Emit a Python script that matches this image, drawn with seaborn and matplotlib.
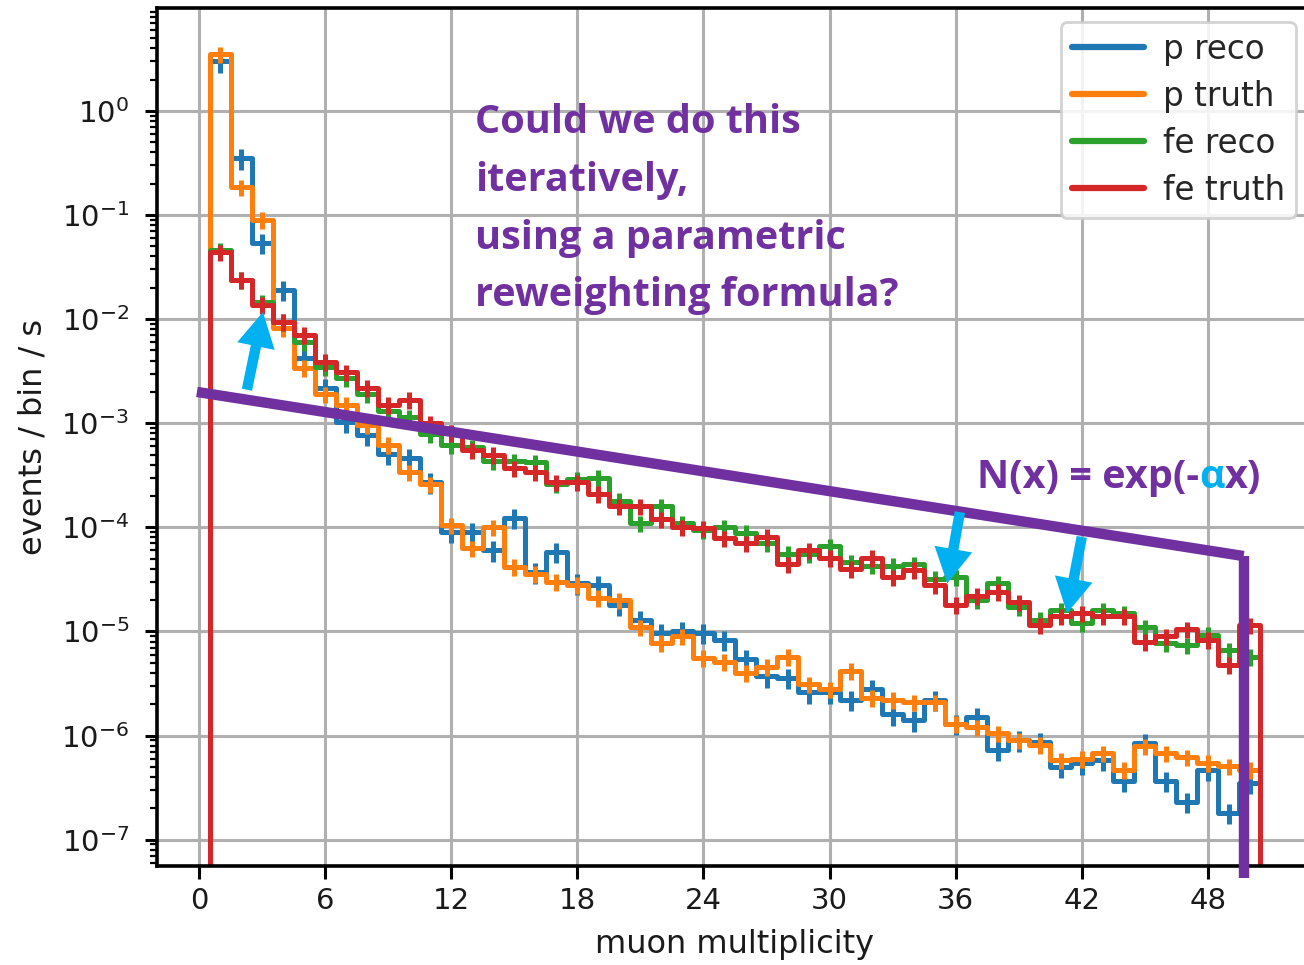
#!/usr/bin/env python3
"""
muon multiplicity: reco vs truth for p and fe, with reweighting idea sketched on top
"""

import numpy as np
import pandas as pd
import matplotlib
matplotlib.use('Agg')
import matplotlib.pyplot as plt
import seaborn as sns
from matplotlib.lines import Line2D

# data (events / bin / s), one bin per multiplicity 1..50
MULTIPLICITY = np.arange(1, 51)
BIN_EDGES = list(np.arange(-0.5, 52.0, 1.0))

P_RECO = [3.0, 0.35, 0.054, 0.019, 0.0042, 0.0022, 0.00103, 0.00077, 0.00051, 0.00046,
          0.00027, 9.1e-5, 9.0e-5, 6.0e-5, 1.23e-4, 3.7e-5, 5.8e-5, 2.9e-5, 2.8e-5, 1.8e-5,
          1.3e-5, 9.7e-6, 1.0e-5, 9.7e-6, 8.3e-6, 5.4e-6, 3.7e-6, 3.6e-6, 2.6e-6, 2.6e-6,
          2.2e-6, 2.8e-6, 1.6e-6, 1.4e-6, 2.2e-6, 1.3e-6, 1.5e-6, 7.3e-7, 9.0e-7, 8.7e-7,
          5.0e-7, 5.4e-7, 5.8e-7, 3.7e-7, 8.5e-7, 3.7e-7, 2.3e-7, 4.7e-7, 1.8e-7, 3.5e-7]
P_TRUTH = [3.5, 0.186, 0.09, 0.0083, 0.0034, 0.0019, 0.0015, 0.00096, 0.00062, 0.00034,
           0.00026, 1.05e-4, 6.3e-5, 1.0e-4, 4.2e-5, 3.6e-5, 3.0e-5, 2.8e-5, 2.1e-5, 2.0e-5,
           1.1e-5, 7.8e-6, 9.0e-6, 5.6e-6, 5.1e-6, 4.0e-6, 4.6e-6, 5.7e-6, 3.1e-6, 2.8e-6,
           4.2e-6, 2.3e-6, 2.2e-6, 2.1e-6, 2.1e-6, 1.3e-6, 1.2e-6, 1.05e-6, 9.0e-7, 8.2e-7,
           5.8e-7, 6.0e-7, 6.8e-7, 4.7e-7, 7.9e-7, 6.8e-7, 6.2e-7, 5.5e-7, 5.1e-7, 4.7e-7]
FE_RECO = [0.046, 0.024, 0.0145, 0.0094, 0.006, 0.0035, 0.0027, 0.0019, 0.0013, 0.00114,
           0.00078, 0.00062, 0.00059, 0.00043, 0.00043, 0.00042, 0.00026, 0.00029, 0.0003, 0.00018,
           0.00011, 0.00016, 0.00011, 9.5e-5, 1.0e-4, 8.9e-5, 7.0e-5, 5.6e-5, 5.5e-5, 6.6e-5,
           4.6e-5, 4.3e-5, 4.3e-5, 4.4e-5, 3.2e-5, 3.3e-5, 2.0e-5, 2.9e-5, 1.7e-5, 1.3e-5,
           1.6e-5, 1.2e-5, 1.6e-5, 1.5e-5, 1.1e-5, 7.8e-6, 7.4e-6, 9.3e-6, 6.6e-6, 5.7e-6]
FE_TRUTH = [0.044, 0.024, 0.0137, 0.0094, 0.0071, 0.0039, 0.0031, 0.0022, 0.0015, 0.00168,
            0.001, 0.00081, 0.00055, 0.0005, 0.00037, 0.00034, 0.00027, 0.00027, 0.00021, 0.00016,
            0.00016, 0.00012, 1.0e-4, 9.8e-5, 7.9e-5, 7.0e-5, 8.1e-5, 4.4e-5, 6.0e-5, 5.1e-5,
            4.0e-5, 5.1e-5, 3.3e-5, 3.9e-5, 2.8e-5, 1.8e-5, 2.2e-5, 2.4e-5, 1.9e-5, 1.15e-5,
            1.4e-5, 1.5e-5, 1.4e-5, 1.4e-5, 8.0e-6, 9.0e-6, 1.05e-5, 8.3e-6, 4.8e-6, 1.15e-5]

SERIES = ['p reco', 'p truth', 'fe reco', 'fe truth']
VALUES = [P_RECO, P_TRUTH, FE_RECO, FE_TRUTH]
COLORS = ['#1f77b4', '#ff7f0e', '#2ca02c', '#d62728']
REL_ERR = [0.22, 0.18, 0.18, 0.18]

X_TICKS = [0, 6, 12, 18, 24, 30, 36, 42, 48]

# hand-drawn overlay: exponential envelope + cut, arrows
FIT_X = [-0.1, 49.7]
FIT_Y = [2.0e-3, 5.3e-5]
CUT_BOTTOM = 10 ** -7.37
ARROWS = [((2.28, 2.1e-3), (3.04, 1.17e-2)),
          ((36.2, 1.4e-4), (35.6, 2.9e-5)),
          ((42.0, 8.1e-5), (41.3, 1.5e-5))]

PURPLE = '#7030A0'
CYAN = '#00B0F0'
QUESTION = ['Could we do this', 'iteratively,', 'using a parametric', 'reweighting formula?']

W, H = 1304, 965


def main():
    sns.set_style('ticks')
    plt.rcParams['font.family'] = ['DejaVu Sans']

    fig = plt.figure(figsize=(W / 100, H / 100), dpi=100)
    ax = fig.add_axes([157 / W, (H - 866) / H, (1313 - 157) / W, (866 - 8) / H])

    for name, vals, color, rel in zip(SERIES, VALUES, COLORS, REL_ERR):
        df = pd.DataFrame({'multiplicity': MULTIPLICITY, 'rate': vals})
        sns.histplot(data=df, x='multiplicity', weights='rate', bins=BIN_EDGES, element='step',
                     fill=False, color=color, linewidth=3.6, ax=ax)
        ax.errorbar(df['multiplicity'], df['rate'], yerr=df['rate'] * rel, fmt='none',
                    ecolor=color, elinewidth=3.6, capsize=0)

    ax.set_yscale('log')
    ax.set_xlim(-2.0, 53.0)
    ax.set_ylim(10 ** -7.253, 10 ** 0.989)
    ax.set_xticks(X_TICKS)
    ax.grid(True, which='major', color='#b0b0b0', linewidth=2.2)
    ax.set_axisbelow(True)
    for s in ax.spines.values():
        s.set_linewidth(2.6)
        s.set_color('black')
    ax.tick_params(axis='both', which='major', length=9, width=2.2, labelsize=21,
                   color='black', labelcolor='#1a1a1a', direction='out')
    ax.tick_params(axis='y', which='minor', length=5, width=1.6, color='black')
    ax.tick_params(axis='x', pad=6)
    ax.tick_params(axis='y', pad=11)
    ax.set_xlabel('muon multiplicity', fontsize=23, color='#1a1a1a', labelpad=10)
    ax.set_ylabel('events / bin / s', fontsize=23, color='#1a1a1a', labelpad=9)

    handles = [Line2D([], [], color=c, lw=4.5) for c in COLORS]
    leg = ax.legend(handles, SERIES, loc='upper right', bbox_to_anchor=(0.9853, 0.9837),
                    borderaxespad=0, fontsize=23.5, handlelength=2.2, handletextpad=0.6,
                    labelspacing=0.43, borderpad=0.33, framealpha=0.85, fancybox=True)
    leg.get_frame().set_edgecolor('#cccccc')
    leg.get_frame().set_linewidth(2)

    # overlay sketch
    ax.plot(FIT_X, FIT_Y, color=PURPLE, lw=7.5, solid_capstyle='butt', zorder=5)
    ax.plot([FIT_X[1], FIT_X[1]], [FIT_Y[1], CUT_BOTTOM], color=PURPLE, lw=7.5,
            solid_capstyle='butt', clip_on=False, zorder=5)
    for tail, tip in ARROWS:
        ax.annotate('', xy=tip, xytext=tail, zorder=6,
                    arrowprops=dict(arrowstyle='simple,head_width=1.1,head_length=1.0,tail_width=0.3',
                                    mutation_scale=25, color=CYAN, lw=0,
                                    shrinkA=0, shrinkB=0))

    fam = ['Open Sans', 'DejaVu Sans']
    baselines = [133, 191, 249, 306]
    for line, yb in zip(QUESTION, baselines):
        fig.text(475 / W, 1 - yb / H, line, fontsize=28.5, fontweight='bold', color=PURPLE,
                 family=fam, va='baseline', ha='left')

    renderer = fig.canvas.get_renderer()
    x0 = 977
    for part, col in [('N(x) = exp(-', PURPLE), ('\u03b1', CYAN), ('x)', PURPLE)]:
        t = fig.text(x0 / W, 1 - 488 / H, part, fontsize=28.5, fontweight='bold', color=col,
                     family=fam, va='baseline', ha='left')
        x0 += t.get_window_extent(renderer).width

    fig.savefig('out.png', dpi=100)
    plt.close(fig)


if __name__ == '__main__':
    main()
